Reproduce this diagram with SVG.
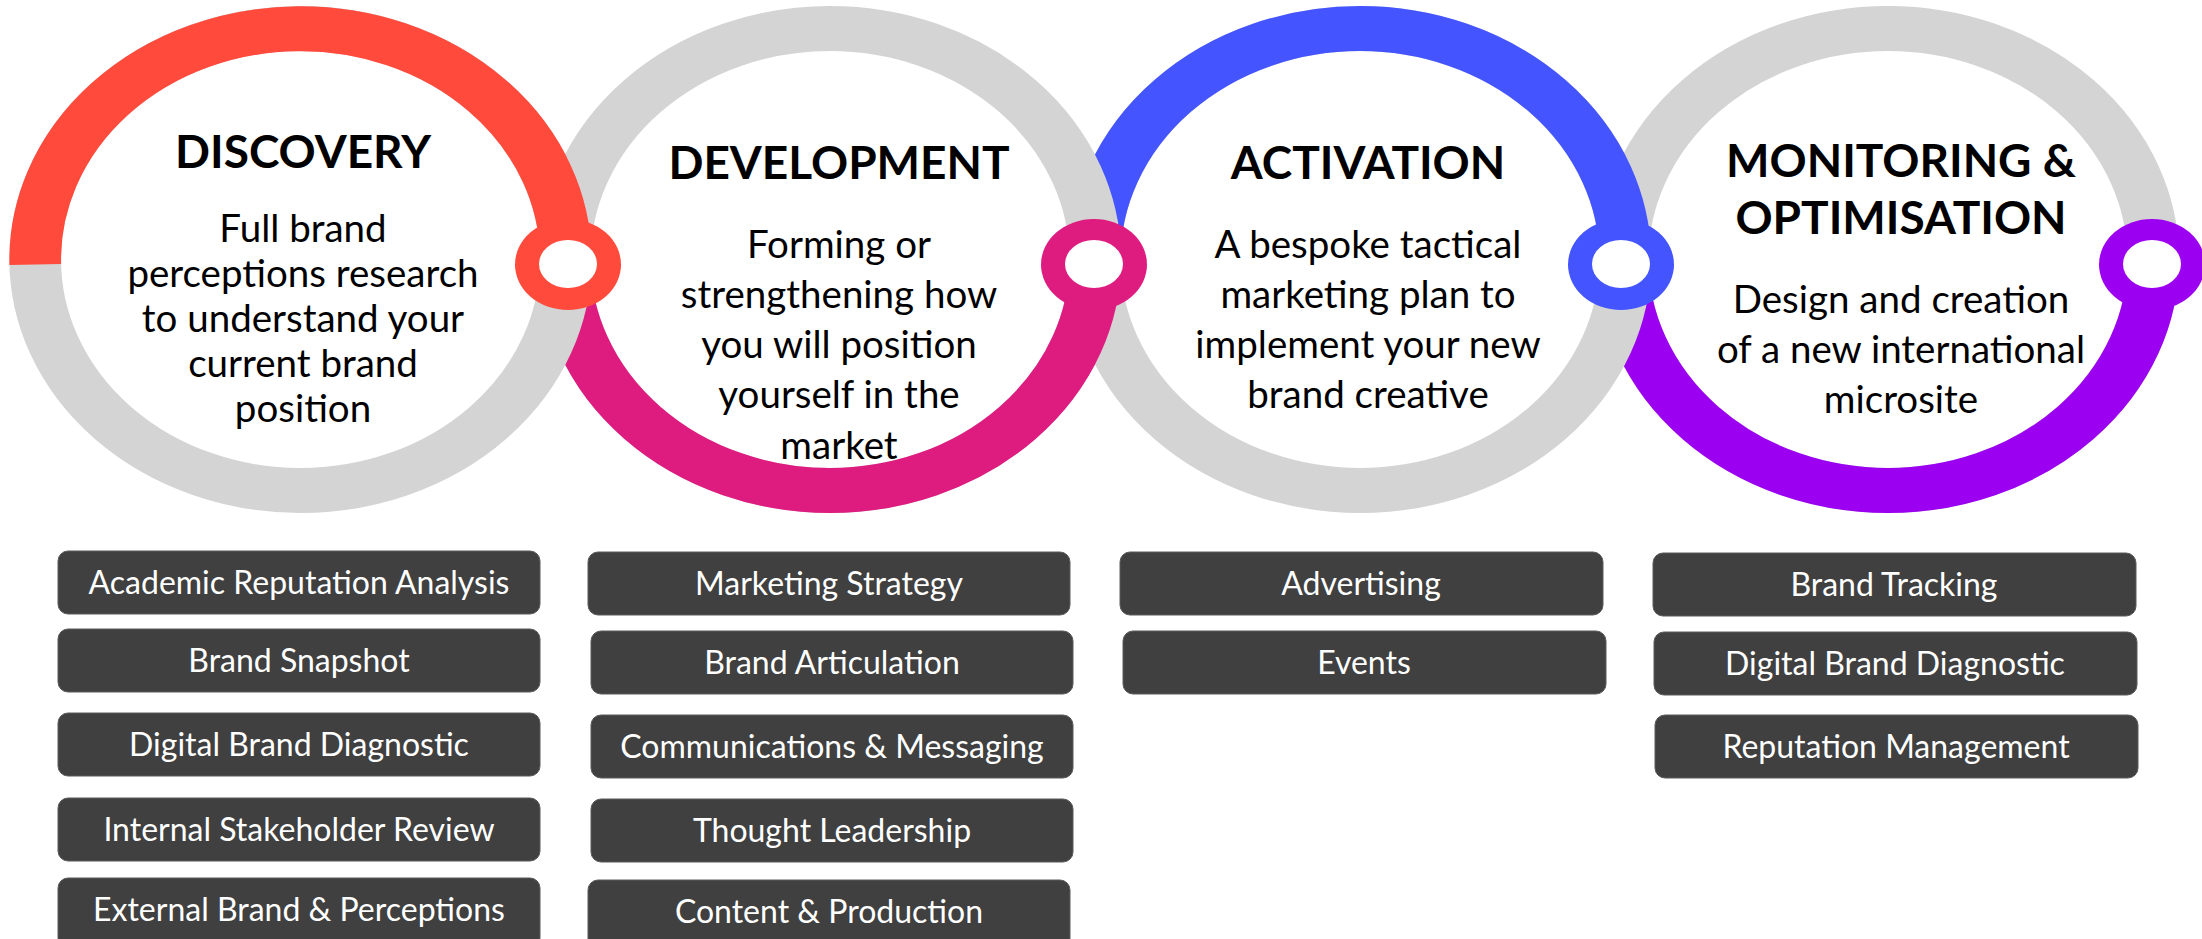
<svg xmlns="http://www.w3.org/2000/svg" width="2202" height="939" viewBox="0 0 2202 939">
<style>
.g{fill:none;stroke:#D4D4D4;stroke-width:45}
.arc{fill:none;stroke-width:45}
.h{font-family:Lato,"Liberation Sans",sans-serif;font-weight:700;font-size:46px;fill:#000;text-anchor:middle}
.b{font-family:Lato,"Liberation Sans",sans-serif;font-size:38.5px;fill:#000;text-anchor:middle}
.btn rect{fill:#404040;stroke:#5a5a5a;stroke-width:1}
.btn text{font-family:Lato,"Liberation Sans",sans-serif;font-size:32px;fill:#fff;text-anchor:middle}
.hole{fill:#fff}
</style>
<rect width="2202" height="939" fill="#fff"/>

<g id="monitoring">
  <g transform="translate(1888,259.5) scale(1.1485,1)">
    <circle class="g" r="231"/>
    <path class="arc" stroke="#9B00F0" d="M -231 0 A 231 231 0 0 0 231 0"/>
  </g>
  <text class="h" x="1901" y="177">MONITORING &amp;</text>
  <text class="h" x="1901" y="234">OPTIMISATION</text>
  <text class="b" x="1901" y="313">Design and creation</text>
  <text class="b" x="1901" y="363">of a new international</text>
  <text class="b" x="1901" y="413">microsite</text>
</g>

<g id="activation">
  <g transform="translate(1360,259.5) scale(1.1485,1)">
    <circle class="g" r="231"/>
    <path class="arc" stroke="#4455FF" d="M -231 0 A 231 231 0 0 1 231 0"/>
  </g>
  <text class="h" x="1368" y="179">ACTIVATION</text>
  <text class="b" x="1368" y="258">A bespoke tactical</text>
  <text class="b" x="1368" y="308">marketing plan to</text>
  <text class="b" x="1368" y="358">implement your new</text>
  <text class="b" x="1368" y="408">brand creative</text>
</g>

<g id="development">
  <g transform="translate(830,259.5) scale(1.1485,1)">
    <circle class="g" r="231"/>
    <path class="arc" stroke="#DE1C80" d="M -231 0 A 231 231 0 0 0 231 0"/>
  </g>
  <text class="h" x="839" y="179">DEVELOPMENT</text>
  <text class="b" x="839" y="258">Forming or</text>
  <text class="b" x="839" y="308">strengthening how</text>
  <text class="b" x="839" y="358">you will position</text>
  <text class="b" x="839" y="408">yourself in the</text>
  <text class="b" x="839" y="459">market</text>
</g>

<g id="discovery">
  <g transform="translate(300.5,259.5) scale(1.1485,1)">
    <circle class="g" r="231"/>
    <path class="arc" stroke="#FF4A3C" d="M -230.95 5 A 231 231 0 1 1 231 0"/>
  </g>
  <text class="h" x="303" y="168">DISCOVERY</text>
  <text class="b" x="303" y="242">Full brand</text>
  <text class="b" x="303" y="287">perceptions research</text>
  <text class="b" x="303" y="332">to understand your</text>
  <text class="b" x="303" y="377">current brand</text>
  <text class="b" x="303" y="422">position</text>
</g>

<g id="connectors">
  <ellipse cx="568" cy="264.5" rx="53" ry="45.5" fill="#FF4A3C"/>
  <ellipse class="hole" cx="568" cy="264" rx="29" ry="24"/>
  <ellipse cx="1094" cy="264.5" rx="53" ry="45.5" fill="#DE1C80"/>
  <ellipse class="hole" cx="1094" cy="264" rx="29" ry="24"/>
  <ellipse cx="1621" cy="264.5" rx="53" ry="45.5" fill="#4455FF"/>
  <ellipse class="hole" cx="1621" cy="264" rx="29" ry="24"/>
  <ellipse cx="2152" cy="264.5" rx="53" ry="45.5" fill="#9B00F0"/>
  <ellipse class="hole" cx="2152" cy="264" rx="29" ry="24"/>
</g>

<g id="discovery-items" class="btn">
  <g id="d1"><rect x="58" y="551" width="482" height="63" rx="10"/><text x="299" y="594">Academic Reputation Analysis</text></g>
  <g id="d2"><rect x="58" y="629" width="482" height="63" rx="10"/><text x="299" y="672">Brand Snapshot</text></g>
  <g id="d3"><rect x="58" y="713" width="482" height="63" rx="10"/><text x="299" y="756">Digital Brand Diagnostic</text></g>
  <g id="d4"><rect x="58" y="798" width="482" height="63" rx="10"/><text x="299" y="841">Internal Stakeholder Review</text></g>
  <g id="d5"><rect x="58" y="878" width="482" height="70" rx="10"/><text x="299" y="921">External Brand &amp; Perceptions</text></g>
</g>

<g id="development-items" class="btn">
  <g id="v1"><rect x="588" y="552" width="482" height="63" rx="10"/><text x="829" y="595">Marketing Strategy</text></g>
  <g id="v2"><rect x="591" y="631" width="482" height="63" rx="10"/><text x="832" y="674">Brand Articulation</text></g>
  <g id="v3"><rect x="591" y="715" width="482" height="63" rx="10"/><text x="832" y="758">Communications &amp; Messaging</text></g>
  <g id="v4"><rect x="591" y="799" width="482" height="63" rx="10"/><text x="832" y="842">Thought Leadership</text></g>
  <g id="v5"><rect x="588" y="880" width="482" height="70" rx="10"/><text x="829" y="923">Content &amp; Production</text></g>
</g>

<g id="activation-items" class="btn">
  <g id="a1"><rect x="1120" y="552" width="483" height="63" rx="10"/><text x="1361" y="595">Advertising</text></g>
  <g id="a2"><rect x="1123" y="631" width="483" height="63" rx="10"/><text x="1364" y="674">Events</text></g>
</g>

<g id="monitoring-items" class="btn">
  <g id="m1"><rect x="1653" y="553" width="483" height="63" rx="10"/><text x="1894" y="596">Brand Tracking</text></g>
  <g id="m2"><rect x="1654" y="632" width="483" height="63" rx="10"/><text x="1895" y="675">Digital Brand Diagnostic</text></g>
  <g id="m3"><rect x="1655" y="715" width="483" height="63" rx="10"/><text x="1896" y="758">Reputation Management</text></g>
</g>
</svg>
